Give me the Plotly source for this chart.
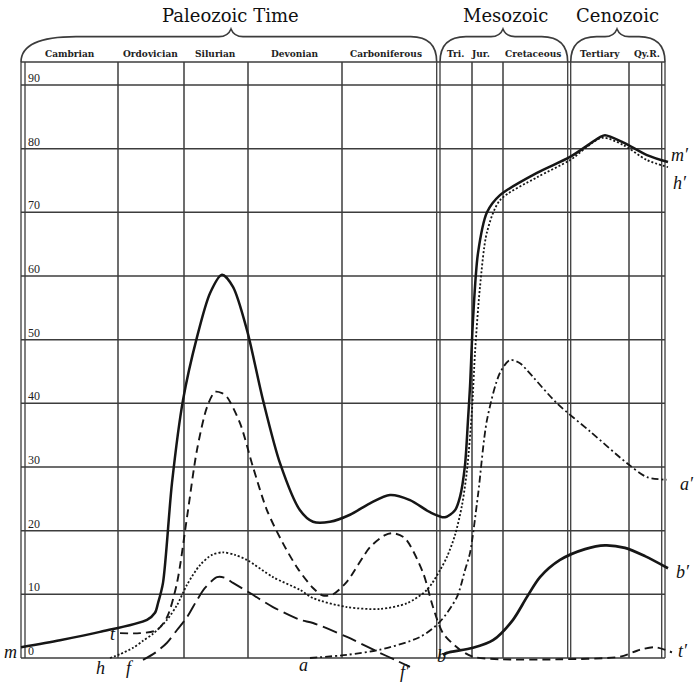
import plotly.graph_objects as go

# ---------------- data (horizontal position units: left edge of grid = 0) ----------------
period_names = ["Cambrian", "Ordovician", "Silurian", "Devonian", "Carboniferous",
                "Tri.", "Jur.", "Cretaceous", "Tertiary", "Qy.R."]
period_label_x = [47, 127, 192, 272, 363, 432, 457, 510, 577, 624]
single_edges = [95, 161, 225, 319, 449, 480, 606]
double_edges = [(-2, 2), (413.7, 417), (544.7, 547.7), (638.7, 642)]
era_names = ["Paleozoic Time", "Mesozoic", "Cenozoic"]
era_label_x = [207, 482, 594]
era_spans = [(-2, 413.7), (417, 544.7), (547.7, 642)]
era_cusp_x = [208, 480, 594]
y_ticks = [0, 10, 20, 30, 40, 50, 60, 70, 80, 90]
header_y = 93.6

m_x = [-2, 37, 77, 124, 132, 135, 140, 149, 160, 174, 187, 199, 210, 224, 240, 257, 277, 290, 307,
       327, 347, 367, 387, 407, 422, 432, 437, 442, 445, 447, 450, 455, 464, 477, 514, 547, 577, 582,
       600, 624, 645]
m_y = [1.7, 2.8, 4.1, 6.0, 7.1, 8.6, 11.8, 27.5, 40.5, 50.4, 57.3, 60.2, 58.3, 51.5, 40.5, 30.6, 23.2,
       21.4, 21.4, 22.5, 24.3, 25.6, 24.8, 22.9, 22.1, 23.2, 25.3, 30.3, 37.4, 42.6, 53.1, 63.6, 70.0,
       72.7, 76.2, 78.7, 81.8, 82.1, 81.0, 79.0, 77.9]

h_x = [87, 97, 110, 120, 130, 144, 154, 164, 177, 189, 200, 212, 224, 250, 277, 290, 324, 357, 384,
       404, 417, 424, 432, 439, 444, 449, 452, 457, 464, 477, 514, 547, 579, 600, 624, 645]
h_y = [0.0, 0.6, 1.6, 2.7, 3.8, 6.0, 8.3, 11.5, 14.6, 16.2, 16.6, 16.2, 15.4, 12.7, 10.7, 9.4, 8.0,
       7.7, 8.6, 10.7, 13.8, 15.9, 19.3, 24.0, 29.5, 39.0, 47.9, 58.3, 66.9, 71.9, 75.5, 78.2, 81.7,
       80.6, 78.2, 77.1]

t_x = [97, 117, 134, 144, 154, 164, 174, 184, 192, 199, 204, 217, 230, 244, 260, 275, 290, 300, 310,
       324, 347, 362, 370, 382, 400, 410, 420, 437, 450, 477, 537, 597, 617, 632, 649]
t_y = [3.9, 3.9, 4.4, 6.4, 11.8, 22.1, 32.7, 39.4, 41.8, 41.6, 41.0, 36.9, 30.0, 23.2, 18.0, 14.0,
       11.0, 9.8, 10.0, 12.0, 17.4, 19.3, 19.6, 18.8, 13.4, 8.0, 3.9, 1.3, 0.2, -0.2, -0.2, 0.2, 1.3,
       1.7, 0.9]

f_x = [120, 132, 144, 154, 164, 174, 182, 194, 202, 210, 227, 250, 277, 290, 324, 357, 372, 387]
f_y = [-0.3, 0.8, 2.4, 4.4, 6.4, 9.1, 11.0, 12.7, 12.6, 11.8, 10.2, 8.0, 6.0, 5.5, 3.3, 0.8, -0.3, -1.4]

a_x = [287, 324, 357, 397, 417, 434, 442, 447, 455, 464, 477, 487, 497, 504, 534, 567, 604, 624, 644]
a_y = [0.0, 0.5, 1.3, 3.3, 5.7, 9.6, 13.8, 16.5, 25.6, 37.4, 44.8, 46.8, 46.3, 45.2, 40.0, 35.6,
       30.6, 28.4, 28.0]

b_x = [420, 424, 450, 470, 490, 504, 517, 537, 562, 582, 602, 622, 645]
b_y = [0.5, 0.8, 1.6, 2.8, 6.0, 9.6, 12.7, 15.4, 17.1, 17.7, 17.3, 16.0, 14.1]

curve_labels = ["m", "t", "h", "f", "a", "f′", "b", "t′", "b′", "a′", "m′", "h′"]
curve_label_x = [-13, 90, 77, 107, 280, 382, 418, 660, 660, 664, 657, 657]
curve_label_y = [0.9, 3.8, -1.6, -1.6, -1.1, -2.2, 0.3, 1.1, 13.5, 27.3, 79.0, 74.6]

# ---------------- figure ----------------
INK = "#161616"
GRID = "#3c3c3c"
fig = go.Figure()

series = [
    (m_x, m_y, "solid", 2.5),
    (h_x, h_y, "2px,2px", 1.8),
    (t_x, t_y, "8px,5px", 1.9),
    (f_x, f_y, "15px,6px", 1.9),
    (a_x, a_y, "7px,3px,2px,3px", 1.8),
    (b_x, b_y, "solid", 2.7),
]
for xs, ys, dash, w in series:
    fig.add_trace(go.Scatter(x=xs, y=ys, mode="lines",
                             line=dict(color=INK, width=w, dash=dash, shape="spline", smoothing=0.8),
                             hoverinfo="skip", showlegend=False))

shapes = []
left_x = double_edges[0][0]
right_x = double_edges[-1][1]
for yv in y_ticks + [header_y]:
    shapes.append(dict(type="line", x0=left_x, x1=right_x, y0=yv, y1=yv,
                       line=dict(color=GRID, width=1.5), layer="below"))
for xv in single_edges:
    shapes.append(dict(type="line", x0=xv, x1=xv, y0=0, y1=header_y,
                       line=dict(color=GRID, width=1.5), layer="below"))
for pair in double_edges:
    for xv in pair:
        shapes.append(dict(type="line", x0=xv, x1=xv, y0=0, y1=header_y,
                           line=dict(color=GRID, width=1.3), layer="below"))

# braces over each era
y_flat, y_cusp = 97.6, 98.8
for i, ((x0, x1), xc) in enumerate(zip(era_spans, era_cusp_x)):
    r0 = 55 if i == 0 else 26
    r1 = 26
    path = (f"M {x0},{header_y} Q {x0},{y_flat} {x0 + r0},{y_flat} "
            f"L {xc - 12},{y_flat} Q {xc - 3},{y_flat} {xc},{y_cusp} "
            f"Q {xc + 3},{y_flat} {xc + 12},{y_flat} "
            f"L {x1 - r1},{y_flat} Q {x1},{y_flat} {x1},{header_y}")
    shapes.append(dict(type="path", path=path, line=dict(color=GRID, width=1.6), layer="below"))

annotations = []
for v in y_ticks:
    annotations.append(dict(x=2.5, y=v + 1.1, text=str(v), showarrow=False, xanchor="left",
                            yanchor="middle", font=dict(family="Liberation Serif", size=12, color="#222")))
for name, xv in zip(period_names, period_label_x):
    annotations.append(dict(x=xv, y=94.9, text=f"<b>{name}</b>", showarrow=False,
                            font=dict(family="DejaVu Serif", size=9, color="#222")))
for name, xv in zip(era_names, era_label_x):
    annotations.append(dict(x=xv, y=100.9, text=name, showarrow=False,
                            font=dict(family="DejaVu Serif", size=18, color="#111")))
for name, xv, yv in zip(curve_labels, curve_label_x, curve_label_y):
    annotations.append(dict(x=xv, y=yv, text=f"<i>{name}</i>", showarrow=False,
                            font=dict(family="Liberation Serif", size=18, color="#111")))

fig.update_layout(
    width=695, height=682,
    margin=dict(l=0, r=0, t=0, b=0),
    paper_bgcolor="white", plot_bgcolor="white",
    shapes=shapes, annotations=annotations,
    xaxis=dict(range=[-23, 672], visible=False, fixedrange=True),
    yaxis=dict(range=[-3.77, 103.35], visible=False, fixedrange=True),
    showlegend=False,
)

fig.write_html("out.html", config={"displayModeBar": False},
               post_script="document.body.style.margin='0px';document.body.style.overflow='hidden';")
